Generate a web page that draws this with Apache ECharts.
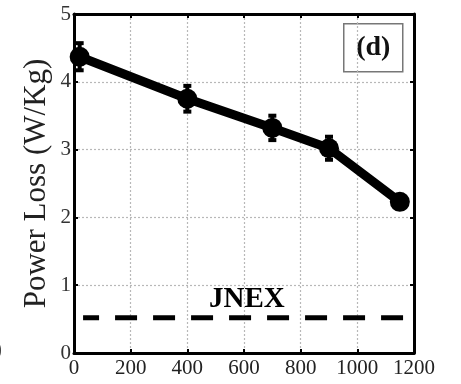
<!DOCTYPE html>
<html>
<head>
<meta charset="utf-8">
<script src="https://cdn.jsdelivr.net/npm/echarts@6/dist/echarts.min.js"></script>
<style>
  html, body { margin: 0; padding: 0; background: #fff; }
  #chart { width: 461px; height: 384px; }
</style>
</head>
<body>
<div id="chart"></div>
<script>
// Annealing temperature (x) vs. measured power loss with error bars
const temps = [20, 400, 700, 900, 1150];
const powerLoss = [4.37, 3.75, 3.32, 3.02, 2.23];
const lossErr = [0.2, 0.19, 0.18, 0.17, 0.08];

// JNEX reference level (dashed line)
const jnexX = [32, 1175];
const jnexLevel = 0.52;

const xTicks = [0, 200, 400, 600, 800, 1000, 1200];
const yTicks = [0, 1, 2, 3, 4, 5];

const serif = '"Liberation Serif", "DejaVu Serif", serif';

const chart = echarts.init(document.getElementById('chart'), null, { renderer: 'canvas' });

const frameLine = { show: true, onZero: false, lineStyle: { color: '#000', width: 3 } };
const innerTick = { show: true, inside: true, length: 4, lineStyle: { color: '#000', width: 2 } };

chart.setOption({
  animation: false,
  backgroundColor: '#fff',
  grid: { left: 74, right: 47, top: 14, bottom: 31, containLabel: false },
  xAxis: [
    {
      type: 'value', min: xTicks[0], max: xTicks[xTicks.length - 1], interval: 200,
      axisLine: frameLine, axisTick: innerTick,
      axisLabel: { color: '#222', fontFamily: serif, fontSize: 21, margin: 5, formatter: v => String(v) },
      splitLine: { show: true, lineStyle: { color: '#b8b8b8', width: 1.2, type: [2, 2] } }
    },
    {
      type: 'value', position: 'top', min: xTicks[0], max: xTicks[xTicks.length - 1], interval: 200,
      axisLine: frameLine, axisTick: innerTick, axisLabel: { show: false }, splitLine: { show: false }
    }
  ],
  yAxis: [
    {
      type: 'value', min: yTicks[0], max: yTicks[yTicks.length - 1], interval: 1,
      name: 'Power Loss (W/Kg)', nameLocation: 'middle', nameGap: 22, nameMoveOverlap: false,
      nameTextStyle: { color: '#222', fontFamily: serif, fontSize: 31 },
      axisLine: frameLine, axisTick: innerTick,
      axisLabel: { color: '#333', fontFamily: serif, fontSize: 21, margin: 3, formatter: v => String(v) },
      splitLine: { show: true, lineStyle: { color: '#b8b8b8', width: 1.2, type: [2, 2] } }
    },
    {
      type: 'value', position: 'right', min: yTicks[0], max: yTicks[yTicks.length - 1], interval: 1,
      axisLine: frameLine, axisTick: innerTick, axisLabel: { show: false }, splitLine: { show: false }
    }
  ],
  series: [
    {
      name: 'JNEX',
      type: 'line',
      data: jnexX.map(x => [x, jnexLevel]),
      symbol: 'none',
      lineStyle: { color: '#000', width: 5, type: [22, 16], dashOffset: 6 },
      z: 3
    },
    {
      name: 'error',
      type: 'custom',
      data: temps.map((t, i) => [t, powerLoss[i] - lossErr[i], powerLoss[i] + lossErr[i]]),
      renderItem: function (params, api) {
        const lo = api.coord([api.value(0), api.value(1)]);
        const hi = api.coord([api.value(0), api.value(2)]);
        const cap = 4;
        const style = { stroke: '#000', lineWidth: 4 };
        return {
          type: 'group',
          children: [
            { type: 'line', shape: { x1: lo[0], y1: lo[1], x2: hi[0], y2: hi[1] }, style: style },
            { type: 'line', shape: { x1: lo[0] - cap, y1: lo[1], x2: lo[0] + cap, y2: lo[1] }, style: style },
            { type: 'line', shape: { x1: hi[0] - cap, y1: hi[1], x2: hi[0] + cap, y2: hi[1] }, style: style }
          ]
        };
      },
      z: 4
    },
    {
      name: 'Power Loss',
      type: 'line',
      data: temps.map((t, i) => [t, powerLoss[i]]),
      symbol: 'circle',
      symbolSize: 20,
      itemStyle: { color: '#000' },
      lineStyle: { color: '#000', width: 9, join: 'round', cap: 'round' },
      z: 5
    },
    {
      name: 'labels',
      type: 'scatter',
      data: [[610, 0.79]],
      symbolSize: 0,
      itemStyle: { color: '#000', opacity: 1 },
      label: {
        show: true, position: 'inside', formatter: 'JNEX',
        color: '#000', textBorderWidth: 0, fontFamily: serif, fontWeight: 'bold', fontSize: 29
      },
      z: 6
    }
  ],
  graphic: [
    {
      type: 'group', left: 343, top: 23,
      children: [
        { type: 'rect', shape: { x: 0, y: 0, width: 59, height: 48 },
          style: { fill: '#fff', stroke: '#777', lineWidth: 1.5 } },
        { type: 'text', style: { x: 29.5, y: 24, text: '(d)', align: 'center', verticalAlign: 'middle',
          fill: '#111', font: 'bold 28px ' + serif } }
      ]
    },
    {
      type: 'text', left: -6, top: 338,
      style: { text: ')', fill: '#333', font: '24px ' + serif }
    }
  ]
});
</script>
</body>
</html>
